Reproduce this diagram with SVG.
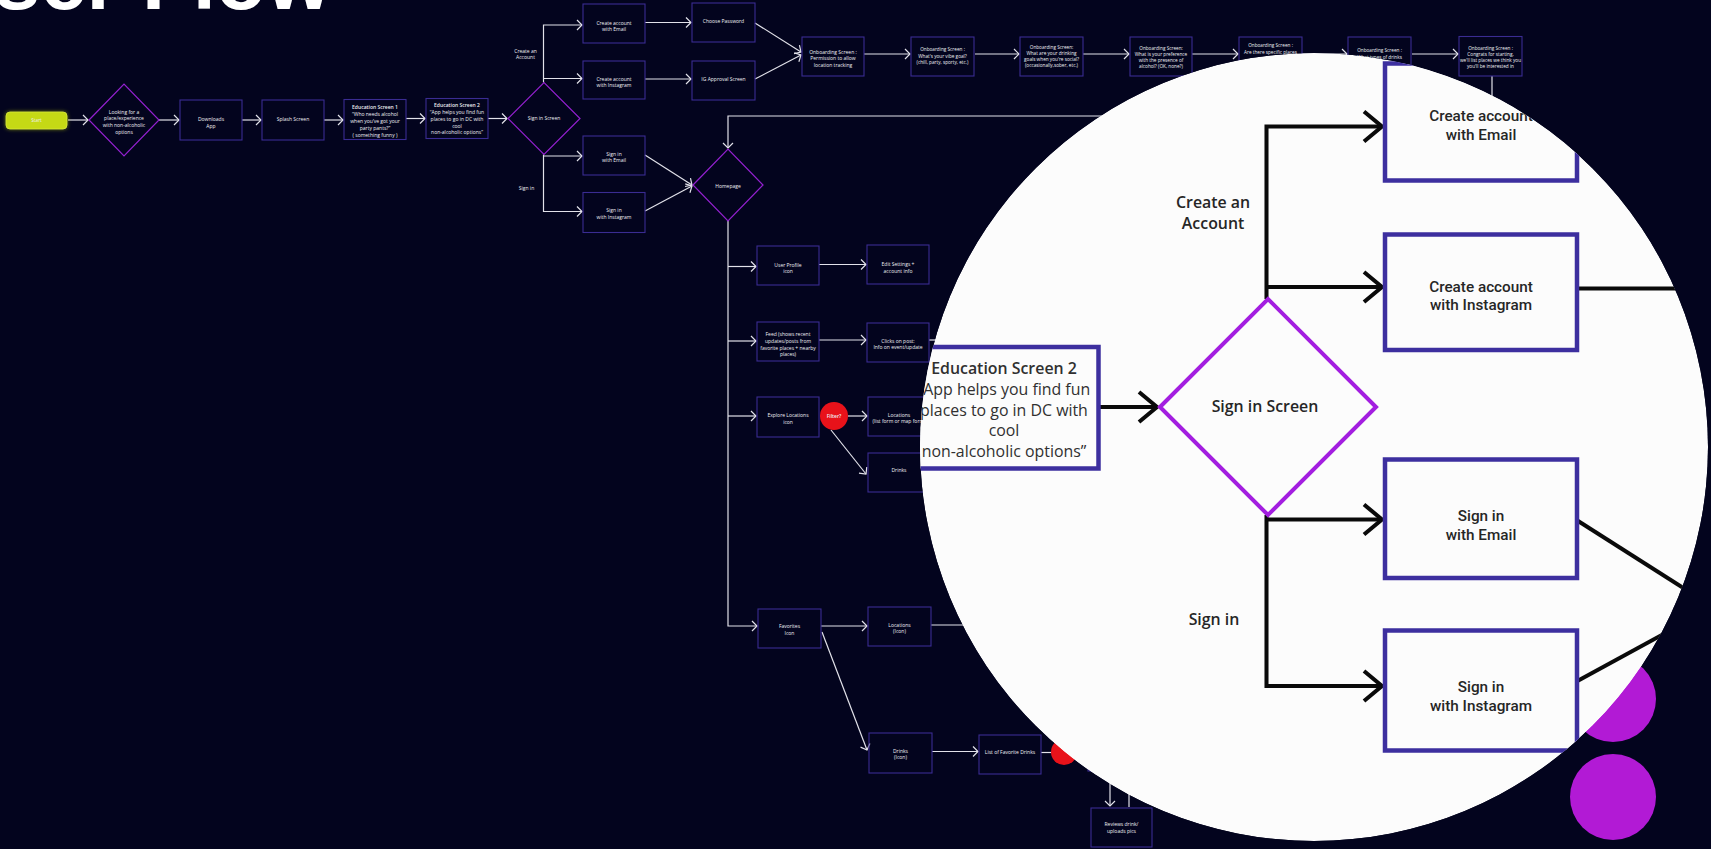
<svg xmlns="http://www.w3.org/2000/svg" width="1711" height="849" viewBox="0 0 1711 849">
<style>
.bx{fill:none;stroke:#3a2c92;stroke-width:1.1}
.dm{fill:none;stroke:#9320cf;stroke-width:1.2}
.ln{fill:none;stroke:#e2e2ea;stroke-width:1.2}
.t{font-family:"Open Sans","Liberation Sans",sans-serif;font-size:5px;fill:#f0f0f4;text-anchor:middle}
.ts{font-size:4.7px}
.b{font-weight:600}
.lbx{fill:#fcfcfc;stroke:#3d2f9f;stroke-width:1.5}
.ldm{fill:none;stroke:#a31ee0;stroke-width:1.35}
.lln{fill:none;stroke:#0a0a0a;stroke-width:1.35}
.lt{font-family:"Open Sans","Liberation Sans",sans-serif;font-size:5.3px;fill:#262626;text-anchor:middle;font-weight:600}
.lr{font-family:Roboto,"Liberation Sans",sans-serif;font-size:5.1px;fill:#262626;text-anchor:middle;font-weight:500}
.le{font-family:"Open Sans","Liberation Sans",sans-serif;font-size:5.3px;fill:#303030;text-anchor:middle}
</style>
<defs>
<marker id="ah" markerUnits="userSpaceOnUse" viewBox="-7 -7 9 14" refX="0" refY="0" markerWidth="9" markerHeight="14" orient="auto"><path d="M-5,-5 L0,0 L-5,5" fill="none" stroke="#e2e2ea" stroke-width="1.2"/></marker>
<marker id="lah" markerUnits="userSpaceOnUse" viewBox="-8 -7 10 14" refX="0" refY="0" markerWidth="10" markerHeight="14" orient="auto"><path d="M-6,-5 L0,0 L-6,5" fill="none" stroke="#0a0a0a" stroke-width="1.35"/></marker>
<clipPath id="magclip"><circle cx="1314" cy="447" r="394"/></clipPath>
<filter id="glow" x="-30%" y="-80%" width="160%" height="260%"><feGaussianBlur stdDeviation="2"/></filter>
</defs>
<rect width="1711" height="849" fill="#03041e"/>
<text x="331" y="9" font-family="'Liberation Sans',Arial,sans-serif" font-weight="700" font-size="83" fill="#ffffff" text-anchor="end">User Flow</text>

<g id="connectors" class="ln">
<path d="M68,120 H88" marker-end="url(#ah)"/>
<path d="M159,120 H179" marker-end="url(#ah)"/>
<path d="M242,120 H261" marker-end="url(#ah)"/>
<path d="M324,120 H343" marker-end="url(#ah)"/>
<path d="M406,118.5 H425" marker-end="url(#ah)"/>
<path d="M488,118.5 H507" marker-end="url(#ah)"/>
<path d="M543.5,82.5 V25 H582" marker-end="url(#ah)"/>
<path d="M543.5,78.5 H582" marker-end="url(#ah)"/>
<path d="M543.5,154.5 V211.5 H582" marker-end="url(#ah)"/>
<path d="M543.5,156 H582" marker-end="url(#ah)"/>
<path d="M645,22.5 H691" marker-end="url(#ah)"/>
<path d="M645,79 H691" marker-end="url(#ah)"/>
<path d="M755,23 L801,52" marker-end="url(#ah)"/>
<path d="M755,79 L801,55" marker-end="url(#ah)"/>
<path d="M864,54 H910" marker-end="url(#ah)"/>
<path d="M975,54 H1019" marker-end="url(#ah)"/>
<path d="M1083,54 H1129" marker-end="url(#ah)"/>
<path d="M1192,54 H1238" marker-end="url(#ah)"/>
<path d="M1302,54 H1347" marker-end="url(#ah)"/>
<path d="M1412,54 H1458" marker-end="url(#ah)"/>
<path d="M1492,76 V116 H728 V148" marker-end="url(#ah)"/>
<path d="M645,155 L692,185" marker-end="url(#ah)"/>
<path d="M645,211 L692,186" marker-end="url(#ah)"/>
<path d="M728,221 V626 H757" marker-end="url(#ah)"/>
<path d="M728,266.5 H756" marker-end="url(#ah)"/>
<path d="M728,341 H756" marker-end="url(#ah)"/>
<path d="M728,416 H756" marker-end="url(#ah)"/>
<path d="M819,264.5 H866" marker-end="url(#ah)"/>
<path d="M819,340 H866" marker-end="url(#ah)"/>
<path d="M848,416 H867" marker-end="url(#ah)"/>
<path d="M831,430 L866,474" marker-end="url(#ah)"/>
<path d="M821,626 H867" marker-end="url(#ah)"/>
<path d="M822,632 L867,750" marker-end="url(#ah)"/>
<path d="M932,751.5 H978" marker-end="url(#ah)"/>
<path d="M1041,752.5 H1055"/>
<path d="M931,625 H990"/>
<path d="M929,340 H960"/>
<path d="M1110,770 V806" marker-end="url(#ah)"/>
<path d="M1129,770 V807"/>
</g>

<g id="n-start"><rect x="6" y="112" width="61" height="17" rx="4" fill="#c5d915" opacity="0.7" filter="url(#glow)"/><rect x="6" y="112" width="61" height="17" rx="4" fill="#c5d915" stroke="#d8ea3a" stroke-width="0.8"/><text class="t ts" x="36.5" y="122" fill="#eef6a0">Start</text></g>
<g id="n-looking"><polygon class="dm" points="89,120 124,84 159,120 124,156"/><text class="t"><tspan x="124" y="113.5">Looking for a</tspan><tspan x="124" y="120">place/experience</tspan><tspan x="124" y="127">with non-alcoholic</tspan><tspan x="124" y="134">options</tspan></text></g>
<g id="n-download"><rect class="bx" x="180" y="100" width="62" height="40"/><text class="t"><tspan x="211" y="120.8">Downloads</tspan><tspan x="211" y="127.5">App</tspan></text></g>
<g id="n-splash"><rect class="bx" x="262" y="100" width="62" height="40"/><text class="t" x="293" y="121">Splash Screen</text></g>
<g id="n-edu1"><rect class="bx" x="344" y="99.5" width="62" height="40"/><text class="t"><tspan class="b" x="375" y="109">Education Screen 1</tspan><tspan x="375" y="115.8">“Who needs alcohol</tspan><tspan x="375" y="122.8">when you’ve got your</tspan><tspan x="375" y="129.8">party pants?”</tspan><tspan x="375" y="136.6">( something funny )</tspan></text></g>
<g id="n-edu2"><rect class="bx" x="426" y="98.5" width="62" height="40"/><text class="t"><tspan class="b" x="457" y="107.3">Education Screen 2</tspan><tspan x="457" y="114.1">“App helps you find fun</tspan><tspan x="457" y="120.8">places to go in DC with</tspan><tspan x="457" y="127.6">cool</tspan><tspan x="457" y="134.4">non-alcoholic options”</tspan></text></g>
<g id="n-signin-screen"><polygon class="dm" points="508,118.5 544,82.5 580,118.5 544,154.5"/><text class="t" x="544" y="120.3">Sign in Screen</text></g>
<g id="l-create"><text class="t"><tspan x="525.5" y="52.8">Create an</tspan><tspan x="525.5" y="59.1">Account</tspan></text></g>
<g id="l-signin"><text class="t" x="526.5" y="189.8">Sign in</text></g>
<g id="n-create-email"><rect class="bx" x="583" y="4" width="62" height="39"/><text class="t"><tspan x="614" y="24.5">Create account</tspan><tspan x="614" y="31.1">with Email</tspan></text></g>
<g id="n-create-ig"><rect class="bx" x="583" y="61" width="62" height="38"/><text class="t"><tspan x="614" y="80.5">Create account</tspan><tspan x="614" y="86.8">with Instagram</tspan></text></g>
<g id="n-password"><rect class="bx" x="692" y="3" width="63" height="39"/><text class="t" x="723.5" y="23.1">Choose Password</text></g>
<g id="n-igapproval"><rect class="bx" x="692" y="61" width="63" height="39"/><text class="t" x="723.5" y="81.1">IG Approval Screen</text></g>
<g id="n-permission"><rect class="bx" x="802" y="37" width="62" height="39"/><text class="t"><tspan x="833" y="53.5">Onboarding Screen :</tspan><tspan x="833" y="59.8">Permission to allow</tspan><tspan x="833" y="66.8">location tracking</tspan></text></g>
<g id="n-vibe"><rect class="bx" x="911" y="37" width="63" height="39"/><text class="t ts"><tspan x="942.5" y="51">Onboarding Screen :</tspan><tspan x="942.5" y="57.5">What's your vibe goal?</tspan><tspan x="942.5" y="64">(chill, party, sporty, etc.)</tspan></text></g>
<g id="n-drinking"><rect class="bx" x="1020" y="37" width="63" height="39"/><text class="t ts"><tspan x="1051.5" y="49">Onboarding Screen:</tspan><tspan x="1051.5" y="55">What are your drinking</tspan><tspan x="1051.5" y="61">goals when you're social?</tspan><tspan x="1051.5" y="67">(occasionally,sober, etc.)</tspan></text></g>
<g id="n-preference"><rect class="bx" x="1130" y="37" width="62" height="39"/><text class="t ts"><tspan x="1161" y="50">Onboarding Screen:</tspan><tspan x="1161" y="56">What is your preference</tspan><tspan x="1161" y="62">with the presence of</tspan><tspan x="1161" y="68">alcohol? (OK, none?)</tspan></text></g>
<g id="n-places"><rect class="bx" x="1239" y="37" width="63" height="39"/><text class="t ts"><tspan x="1270.5" y="47">Onboarding Screen :</tspan><tspan x="1270.5" y="53.5">Are there specific places</tspan></text></g>
<g id="n-types"><rect class="bx" x="1348" y="37" width="63" height="39"/><text class="t ts"><tspan x="1379.5" y="52">Onboarding Screen :</tspan><tspan x="1379.5" y="58.5">What types of drinks</tspan></text></g>
<g id="n-congrats"><rect class="bx" x="1459" y="36.5" width="63" height="39.5"/><text class="t ts"><tspan x="1490.5" y="50">Onboarding Screen :</tspan><tspan x="1490.5" y="56">Congrats for starting,</tspan><tspan x="1490.5" y="62">we'll list places we think you</tspan><tspan x="1490.5" y="68">you'll be interested in</tspan></text></g>
<g id="n-signin-email"><rect class="bx" x="583" y="136" width="62" height="39"/><text class="t"><tspan x="614" y="155.8">Sign in</tspan><tspan x="614" y="161.8">with Email</tspan></text></g>
<g id="n-signin-ig"><rect class="bx" x="583" y="192.5" width="62" height="40"/><text class="t"><tspan x="614" y="212">Sign in</tspan><tspan x="614" y="218.6">with Instagram</tspan></text></g>
<g id="n-homepage"><polygon class="dm" points="693,185 728,149 763,185 728,221"/><text class="t" x="728" y="187.5">Homepage</text></g>
<g id="n-profile"><rect class="bx" x="757" y="246" width="62" height="39"/><text class="t"><tspan x="788" y="266.5">User Profile</tspan><tspan x="788" y="273.1">icon</tspan></text></g>
<g id="n-settings"><rect class="bx" x="867" y="245" width="62" height="39"/><text class="t"><tspan x="898" y="265.5">Edit Settings +</tspan><tspan x="898" y="272.5">account info</tspan></text></g>
<g id="n-feed"><rect class="bx" x="757" y="322" width="62" height="39"/><text class="t"><tspan x="788" y="335.8">Feed (shows recent</tspan><tspan x="788" y="342.5">updates/posts from</tspan><tspan x="788" y="349.5">favorite places + nearby</tspan><tspan x="788" y="356.1">places)</tspan></text></g>
<g id="n-clicks"><rect class="bx" x="867" y="323" width="62" height="39"/><text class="t"><tspan x="898" y="342.8">Clicks on post:</tspan><tspan x="898" y="349.1">Info on event/update</tspan></text></g>
<g id="n-explore"><rect class="bx" x="757" y="397" width="62" height="40"/><text class="t"><tspan x="788" y="417.1">Explore Locations</tspan><tspan x="788" y="423.5">icon</tspan></text></g>
<g id="n-filter1"><circle cx="834" cy="416" r="14" fill="#e8121a"/><text class="t b" x="834" y="417.8">Filter?</text></g>
<g id="n-locations-list"><rect class="bx" x="868" y="397" width="62" height="39"/><text class="t"><tspan x="899" y="416.8">Locations</tspan><tspan x="899" y="422.8">(list form or map form)</tspan></text></g>
<g id="n-drinks"><rect class="bx" x="868" y="453" width="62" height="39"/><text class="t" x="899" y="471.8">Drinks</text></g>
<g id="n-favorites"><rect class="bx" x="758" y="609" width="63" height="39"/><text class="t"><tspan x="789.5" y="628.1">Favorites</tspan><tspan x="789.5" y="634.5">Icon</tspan></text></g>
<g id="n-locations-icon"><rect class="bx" x="868" y="607" width="63" height="39"/><text class="t"><tspan x="899.5" y="626.8">Locations</tspan><tspan x="899.5" y="632.8">(Icon)</tspan></text></g>
<g id="n-drinks-icon"><rect class="bx" x="869" y="733" width="63" height="40"/><text class="t"><tspan x="900.5" y="753.1">Drinks</tspan><tspan x="900.5" y="759.1">(Icon)</tspan></text></g>
<g id="n-fav-drinks"><rect class="bx" x="979" y="735" width="62" height="39"/><text class="t" x="1010" y="754.1">List of Favorite Drinks</text></g>
<g id="n-filter2"><circle cx="1064" cy="752" r="13" fill="#e8121a"/></g>
<g id="n-hidden"><rect class="bx" x="1088" y="732" width="62" height="39"/></g>
<g id="n-reviews"><rect class="bx" x="1091" y="808" width="61" height="39"/><text class="t"><tspan x="1121.5" y="825.5">Reviews drink/</tspan><tspan x="1121.5" y="832.8">uploads pics</tspan></text></g>

<g id="dots" fill="#b21ad5"><circle cx="1613" cy="699" r="43"/><circle cx="1613" cy="797" r="43"/></g>

<g id="magnifier" clip-path="url(#magclip)">
<circle cx="1314" cy="447" r="394" fill="#fcfcfc"/>
<g transform="translate(1268,407) scale(3) translate(-544,-118.5)">
<g id="mag-connectors" class="lln">
<path d="M488,118.5 H507" marker-end="url(#lah)"/>
<path d="M543.5,82.5 V25 H582" marker-end="url(#lah)"/>
<path d="M543.5,78.5 H582" marker-end="url(#lah)"/>
<path d="M543.5,154.5 V211.5 H582" marker-end="url(#lah)"/>
<path d="M543.5,156 H582" marker-end="url(#lah)"/>
<path d="M645,22.5 H691"/>
<path d="M645,79 H700"/>
<path d="M645,155 L700,190"/>
<path d="M645,211 L700,181"/>
</g>
<g id="mag-edu2"><rect class="lbx" x="426" y="98.5" width="61.5" height="40.5"/><text class="le"><tspan font-weight="600" x="456" y="107.5">Education Screen 2</tspan><tspan x="456" y="114.6">“App helps you find fun</tspan><tspan x="456" y="121.4">places to go in DC with</tspan><tspan x="456" y="128.2">cool</tspan><tspan x="456" y="135.2">non-alcoholic options”</tspan></text></g>
<g id="mag-signin-screen"><polygon class="ldm" points="508,118.5 544,82.5 580,118.5 544,154.5"/><text class="lt" x="543" y="120.3">Sign in Screen</text></g>
<g id="mag-l-create"><text class="lt"><tspan x="525.7" y="52">Create an</tspan><tspan x="525.7" y="59">Account</tspan></text></g>
<g id="mag-l-signin"><text class="lt" x="526" y="191.3">Sign in</text></g>
<g id="mag-create-email"><rect class="lbx" x="583" y="4" width="64" height="39"/><text class="lr"><tspan x="615" y="23">Create account</tspan><tspan x="615" y="29.6">with Email</tspan></text></g>
<g id="mag-create-ig"><rect class="lbx" x="583" y="61" width="64" height="38.5"/><text class="lr"><tspan x="615" y="80">Create account</tspan><tspan x="615" y="86.3">with Instagram</tspan></text></g>
<g id="mag-signin-email"><rect class="lbx" x="583" y="136" width="64" height="39.5"/><text class="lr"><tspan x="615" y="156.5">Sign in</tspan><tspan x="615" y="162.8">with Email</tspan></text></g>
<g id="mag-signin-ig"><rect class="lbx" x="583" y="193" width="64" height="40"/><text class="lr"><tspan x="615" y="213.5">Sign in</tspan><tspan x="615" y="219.8">with Instagram</tspan></text></g>
</g>
</g>
</svg>
